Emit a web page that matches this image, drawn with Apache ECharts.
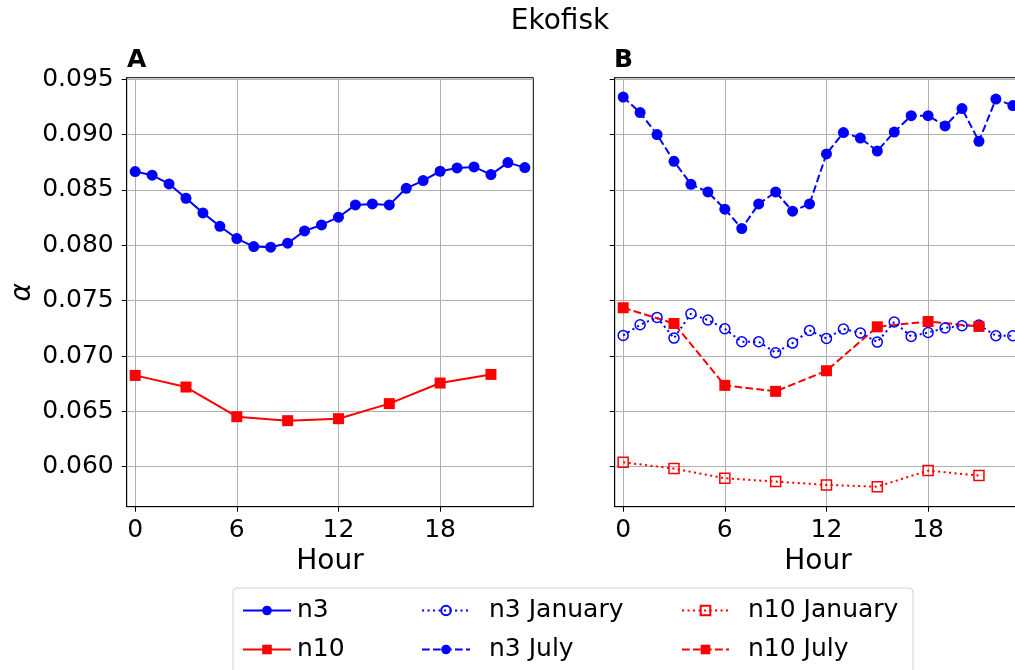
<!DOCTYPE html>
<html><head><meta charset="utf-8">
<script src="https://cdn.jsdelivr.net/npm/echarts@6/dist/echarts.min.js"></script>
<style>html,body{margin:0;padding:0;background:#fff}#c{width:1015px;height:670px}</style>
</head><body><div id="c"></div>
<script>
const hours = [0,1,2,3,4,5,6,7,8,9,10,11,12,13,14,15,16,17,18,19,20,21,22,23];
const hours3 = [0,3,6,9,12,15,18,21];
const n3 = [0.08666,0.08633,0.08554,0.08425,0.08293,0.08172,0.08061,0.07989,0.07983,0.08019,0.0813,0.08184,0.08254,0.08365,0.08374,0.08365,0.08515,0.08585,0.08669,0.08699,0.08708,0.08639,0.08747,0.08702];
const n10 = [0.06825,0.0672,0.06452,0.06416,0.06434,0.0657,0.06756,0.06834];
const n3Jan = [0.07186,0.07282,0.07349,0.07162,0.07382,0.07325,0.07246,0.07129,0.07129,0.0703,0.07117,0.07231,0.07159,0.07244,0.07208,0.07126,0.07307,0.07177,0.07213,0.07253,0.07273,0.0728,0.07183,0.07183];
const n3Jul = [0.09339,0.09199,0.0900,0.08759,0.08551,0.08482,0.08326,0.08152,0.08374,0.08482,0.08308,0.08374,0.08825,0.09018,0.08969,0.08852,0.09023,0.09171,0.09171,0.09078,0.09235,0.0894,0.09321,0.09262];
const n10Jan = [0.0604,0.05983,0.05896,0.05866,0.05836,0.0582,0.05965,0.0592];
const n10Jul = [0.07436,0.07294,0.06735,0.06681,0.06867,0.07264,0.07312,0.07267];
const yTicks = [0.060,0.065,0.070,0.075,0.080,0.085,0.090,0.095];
const xTicks = [0,6,12,18];

const FONT = 'DejaVu Sans';
const BLUE = '#0000ff', RED = '#ff0000';
const pairs = (xs, ys) => xs.map((x,i)=>[x, ys[i]]);

function xAxisCfg(gi){
  return {type:'value', gridIndex:gi, min:-0.5, max:23.5,
    name:'Hour', nameLocation:'middle', nameGap:37,
    nameTextStyle:{fontSize:28, color:'#000', fontFamily:FONT},
    axisLine:{show:true, onZero:false, lineStyle:{color:'#000', width:1}},
    axisTick:{show:true, length:5, customValues:xTicks, lineStyle:{color:'#000', width:1}},
    axisLabel:{customValues:xTicks, fontSize:25, color:'#000', fontFamily:FONT, margin:11},
    splitLine:{show:true, lineStyle:{color:'#b0b0b0', width:1}}};
}
function yAxisCfg(gi, labels){
  const a = {type:'value', gridIndex:gi, min:0.05639, max:0.09514,
    axisLine:{show:true, onZero:false, lineStyle:{color:'#000', width:1}},
    axisTick:{show:true, length:5, customValues:yTicks, lineStyle:{color:'#000', width:1}},
    axisLabel:{show:labels, customValues:yTicks, fontSize:25, color:'#000', fontFamily:FONT, margin:13,
      formatter: v => Number(v).toFixed(3)},
    splitLine:{show:true, lineStyle:{color:'#b0b0b0', width:1}}};
  if (labels){
    a.name = 'α'; a.nameLocation = 'middle'; a.nameGap = 90;
    a.nameTextStyle = {fontSize:28, color:'#000', fontFamily:FONT, fontStyle:'italic'};
  }
  return a;
}
function series(name, gi, xs, ys, opt){
  return Object.assign({type:'line', name, xAxisIndex:gi, yAxisIndex:gi, data:pairs(xs, ys),
    animation:false, clip:true}, opt);
}
function legendCol(names, left, iw, pad){
  return {data:names, left, top:593, orient:'vertical', itemWidth:iw, itemHeight:12, itemGap:14,
    textStyle:{fontSize:25, color:'#000', fontFamily:FONT, padding:[0,0,0,pad]}};
}

const chart = echarts.init(document.getElementById('c'), null, {renderer:'canvas'});
chart.setOption({
  animation:false,
  backgroundColor:'#fff',
  textStyle:{fontFamily:FONT},
  grid:[
    {left:126.7, top:77.7, width:406.6, height:429, show:true, borderColor:'#000', borderWidth:1, outerBoundsMode:'none'},
    {left:614.7, top:77.7, width:406.6, height:429, show:true, borderColor:'#000', borderWidth:1, outerBoundsMode:'none'}
  ],
  xAxis:[xAxisCfg(0), xAxisCfg(1)],
  yAxis:[yAxisCfg(0,true), yAxisCfg(1,false)],
  legend:[
    legendCol(['n3','n10'], 237, 48, 1),
    legendCol(['n3 January','n3 July'], 416, 48, 14),
    legendCol(['n10 January','n10 July'], 676, 47, 14)
  ],
  graphic:[
    {type:'rect', z:0, shape:{x:233, y:588, width:680, height:110, r:4},
     style:{fill:'rgba(255,255,255,0.8)', stroke:'#d0d0d0', lineWidth:1}},
    {type:'text', x:560, y:8, style:{text:'Ekofisk', font:'28px "DejaVu Sans"', fill:'#000', textAlign:'center', textVerticalAlign:'top'}},
    {type:'text', x:127, y:48, style:{text:'A', font:'bold 25px "DejaVu Sans"', fill:'#000', textAlign:'left', textVerticalAlign:'top'}},
    {type:'text', x:614, y:48, style:{text:'B', font:'bold 25px "DejaVu Sans"', fill:'#000', textAlign:'left', textVerticalAlign:'top'}}
  ],
  series:[
    series('n3', 0, hours, n3, {symbol:'circle', symbolSize:11, itemStyle:{color:BLUE}, lineStyle:{color:BLUE, width:2}}),
    series('n10', 0, hours3, n10, {symbol:'rect', symbolSize:11, itemStyle:{color:RED}, lineStyle:{color:RED, width:2}}),
    series('n3 January', 1, hours, n3Jan, {symbol:'circle', symbolSize:10,
      itemStyle:{color:'rgba(255,255,255,0)', borderColor:BLUE, borderWidth:1.5},
      lineStyle:{color:BLUE, width:2, type:[2.1,3.4]}}),
    series('n3 July', 1, hours, n3Jul, {symbol:'circle', symbolSize:11, itemStyle:{color:BLUE},
      lineStyle:{color:BLUE, width:2, type:[7.7,3.3]}}),
    series('n10 January', 1, hours3, n10Jan, {symbol:'rect', symbolSize:10,
      itemStyle:{color:'rgba(255,255,255,0)', borderColor:RED, borderWidth:1.5},
      lineStyle:{color:RED, width:2, type:[2.1,3.4]}}),
    series('n10 July', 1, hours3, n10Jul, {symbol:'rect', symbolSize:11, itemStyle:{color:RED},
      lineStyle:{color:RED, width:2, type:[7.7,3.3]}})
  ]
});
</script></body></html>
